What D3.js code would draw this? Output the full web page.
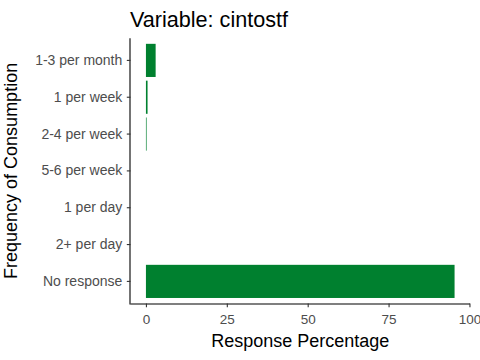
<!DOCTYPE html>
<html>
<head>
<meta charset="utf-8">
<script src="https://cdn.jsdelivr.net/npm/d3@7"></script>
<style>
html,body{margin:0;padding:0;background:#fff;}
svg{display:block;}
text{font-family:"Liberation Sans",Arial,sans-serif;}
</style>
</head>
<body>
<svg id="chart" width="480" height="360"></svg>
<script>
const categories = ["1-3 per month","1 per week","2-4 per week","5-6 per week","1 per day","2+ per day","No response"];
const values = [3.0, 0.5, 0.2, 0, 0, 0, 95.4];
const xTicks = [0, 25, 50, 75, 100];
const titleText = "Variable: cintostf";
const xTitle = "Response Percentage";
const yTitle = "Frequency of Consumption";

const svg = d3.select("#chart");
const panel = {left: 130.5, right: 470, top: 38.3, bottom: 303.5};
const maxV = d3.max(values);
const x = d3.scaleLinear()
  .domain([-0.05*maxV, maxV*1.05])
  .range([panel.left, panel.right]);
const y = d3.scaleBand()
  .domain(categories)
  .range([panel.top, panel.bottom])
  .paddingInner(0.1)
  .paddingOuter(0.15);

svg.append("g").selectAll("rect")
  .data(categories.map((c,i)=>({c, v: values[i]})))
  .join("rect")
  .attr("x", d => x(0))
  .attr("y", d => y(d.c))
  .attr("width", d => x(d.v) - x(0))
  .attr("height", y.bandwidth())
  .attr("fill", "#00802F");

// x axis
const xAxis = svg.append("g")
  .attr("transform", `translate(0,${panel.bottom})`)
  .call(d3.axisBottom(x).tickValues(xTicks).tickSize(3.7).tickPadding(7).tickSizeOuter(0));
xAxis.select(".domain").attr("stroke", "#000").attr("stroke-width", 1.1)
  .attr("d", `M${panel.left},0.5H${panel.right}`);
xAxis.selectAll(".tick line").attr("stroke", "#333").attr("stroke-width", 1.1);
xAxis.selectAll(".tick text").attr("fill", "#4D4D4D").style("font-size", "13.5px")
  .style("font-family", '"Liberation Sans",Arial,sans-serif');

// y axis
const yAxis = svg.append("g")
  .attr("transform", `translate(${panel.left},0)`)
  .call(d3.axisLeft(y).tickSize(3.7).tickPadding(4.5).tickSizeOuter(0));
yAxis.select(".domain").attr("stroke", "#000").attr("stroke-width", 1.1)
  .attr("d", `M-0.5,${panel.top}V${panel.bottom+1}`);
yAxis.selectAll(".tick line").attr("stroke", "#333").attr("stroke-width", 1.1);
yAxis.selectAll(".tick text").attr("fill", "#4D4D4D").style("font-size", "14px")
  .style("font-family", '"Liberation Sans",Arial,sans-serif');

// titles
svg.append("text")
  .attr("x", panel.left - 0.5)
  .attr("y", 27)
  .style("font-size", "21.6px")
  .attr("fill", "#000")
  .text(titleText);

svg.append("text")
  .attr("x", (panel.left + panel.right)/2)
  .attr("y", 347)
  .attr("text-anchor", "middle")
  .style("font-size", "18px")
  .attr("fill", "#000")
  .text(xTitle);

svg.append("text")
  .attr("transform", `translate(17,${(panel.top+panel.bottom)/2}) rotate(-90)`)
  .attr("text-anchor", "middle")
  .style("font-size", "18px")
  .attr("fill", "#000")
  .text(yTitle);
</script>
</body>
</html>
